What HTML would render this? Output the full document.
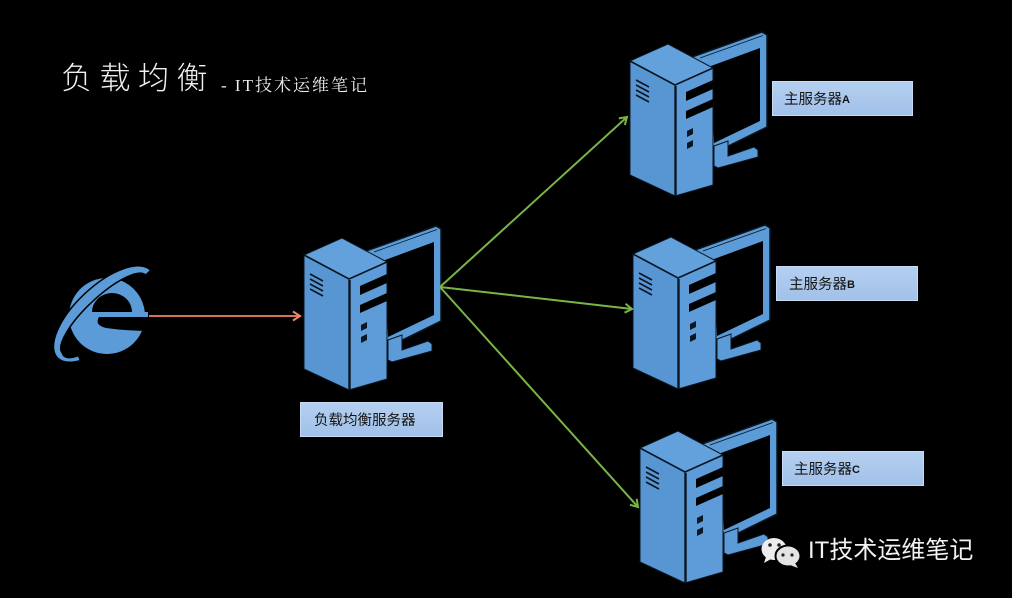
<!DOCTYPE html>
<html><head><meta charset="utf-8">
<style>
html,body{margin:0;padding:0;background:#000;}
#w{position:relative;width:1012px;height:598px;overflow:hidden;background:#000;}
svg{position:absolute;left:0;top:0;}
.t{position:absolute;white-space:nowrap;}
.lb{position:absolute;height:35px;box-sizing:border-box;border:1px solid #c6dbf4;background:linear-gradient(#b4cff0,#a2c1e9);display:flex;align-items:center;font-family:"Liberation Sans","Noto Sans CJK SC",sans-serif;font-size:14px;color:#151515;}
.lb b{font-family:"Liberation Sans",sans-serif;font-size:11px;font-weight:900;position:relative;top:1px;}
</style></head>
<body><div id="w">
<svg width="1012" height="598" viewBox="0 0 1012 598">
<defs>
<marker id="ag" markerUnits="userSpaceOnUse" markerWidth="14" markerHeight="14" refX="9" refY="6" orient="auto"><path d="M2,1.5 L9,6 L2,10.5" fill="none" stroke="#78b545" stroke-width="2"/></marker>
<marker id="ao" markerUnits="userSpaceOnUse" markerWidth="14" markerHeight="14" refX="9" refY="6" orient="auto"><path d="M2,1.5 L9,6 L2,10.5" fill="none" stroke="#ee8a62" stroke-width="2"/></marker>
<g id="pc">
 <polygon points="366,251 436,226 441,229 441,321 390,346 366,346" fill="#5b9bd8" stroke="#0a1622" stroke-width="1.5"/>
 <line x1="374" y1="252" x2="437" y2="229.5" stroke="#0a1622" stroke-width="0.8"/>
 <polygon points="385,260 434,242 434,315 388,337" fill="#000"/>
 <polygon points="388,340 402,335 402,350 428,341 432,344 432,351 392,362 388,360" fill="#5b9bd8" stroke="#0a1622" stroke-width="1"/>
 <polygon points="304,255 349,279 349,390 304,369" fill="#5896d3" stroke="#0a1622" stroke-width="1"/>
 <polygon points="304,255 342,238 387,262 349,279" fill="#63a1dc" stroke="#0a1622" stroke-width="1"/>
 <polygon points="349,279 387,262 387,379 349,390" fill="#5d9cd9" stroke="#0a1622" stroke-width="1"/>
 <polyline points="304,255 349,279 387,262" stroke="#0a1622" stroke-width="1.6" fill="none"/>
 <line x1="349.5" y1="280" x2="349.5" y2="390" stroke="#0a1622" stroke-width="2.4"/>
 <polygon points="360,286 387,274 387,283 360,295" fill="#000"/>
 <polygon points="360,305 387,293 387,301 360,313" fill="#000"/>
 <polygon points="361,325 367,322 367,328 361,331" fill="#0a1622"/>
 <polygon points="361,337 367,334 367,340 361,343" fill="#0a1622"/>
 <g stroke="#0a1622" stroke-width="1.6">
  <line x1="310" y1="274" x2="323" y2="281"/>
  <line x1="310" y1="279" x2="323" y2="286"/>
  <line x1="310" y1="284" x2="323" y2="291"/>
  <line x1="310" y1="289" x2="323" y2="296"/>
 </g>
</g>
</defs>

<!-- IE logo -->
<circle cx="107" cy="316" r="38" fill="#5b9bd8"/>
<path d="M92,312 A20,19 0 0 1 132,312 Z" fill="#000"/>
<path d="M99,317 L150,317 L150,331 Q128,331 106,328 Q94,325 99,317 Z" fill="#000"/>
<rect x="125" y="312" width="23" height="5" fill="#5b9bd8"/>
<g transform="translate(104 314) rotate(-43)">
 <path d="M64,0 A64,28 0 0 0 -64,0 A64,28 0 0 0 -49,18 L-47,13 A57,17 0 0 1 -57,0 A57,17 0 0 1 57,0 Z" fill="#5b9bd8" stroke="#000" stroke-width="1.5"/>
</g>

<!-- computers -->
<use href="#pc"/>
<use href="#pc" x="326" y="-194"/>
<use href="#pc" x="329" y="-1"/>
<use href="#pc" x="336" y="193"/>

<!-- arrows -->
<line x1="149" y1="316" x2="300" y2="316" stroke="#ee8a62" stroke-width="1.8" marker-end="url(#ao)"/>
<line x1="440" y1="287" x2="627" y2="117" stroke="#78b545" stroke-width="2" marker-end="url(#ag)"/>
<line x1="440" y1="287" x2="632" y2="309" stroke="#78b545" stroke-width="2" marker-end="url(#ag)"/>
<line x1="440" y1="287" x2="638" y2="507" stroke="#78b545" stroke-width="2" marker-end="url(#ag)"/>

<!-- wechat icon -->
<ellipse cx="774" cy="549" rx="12.5" ry="11" fill="#ededed"/>
<path d="M766,557 L764,563 L771,559 Z" fill="#ededed"/>
<circle cx="770" cy="545" r="1.8" fill="#222"/>
<circle cx="779" cy="545" r="1.8" fill="#222"/>
<ellipse cx="788" cy="556" rx="12.5" ry="10.5" fill="#e4e4e4" stroke="#000" stroke-width="2"/>
<path d="M795,563 L798,568 L790,565 Z" fill="#e4e4e4"/>
<circle cx="783" cy="555" r="1.6" fill="#222"/>
<circle cx="792" cy="555" r="1.6" fill="#222"/>
</svg>

<div class="t" style="left:61px;top:60px;font-family:'Noto Sans CJK SC',sans-serif;font-weight:300;font-size:31px;line-height:31px;letter-spacing:7.5px;color:#f0f0f0;">负载均衡</div>
<div class="t" style="left:221px;top:77px;font-family:'Liberation Serif','Noto Serif CJK SC',serif;font-size:17px;line-height:17px;letter-spacing:2px;color:#eeeeee;">- IT技术运维笔记</div>

<div class="lb" style="left:300px;top:402px;width:143px;padding-left:13px;font-size:14.5px;">负载均衡服务器</div>
<div class="lb" style="left:772px;top:81px;width:141px;padding-left:11px;font-size:14.5px;">主服务器<b>A</b></div>
<div class="lb" style="left:776px;top:266px;width:142px;padding-left:12px;font-size:14.5px;">主服务器<b>B</b></div>
<div class="lb" style="left:782px;top:451px;width:142px;padding-left:11px;font-size:14.5px;">主服务器<b>C</b></div>

<div class="t" style="left:808px;top:539px;font-family:'Liberation Sans','Noto Sans CJK SC',sans-serif;font-size:24px;line-height:24px;color:#f2f2f2;">IT技术运维笔记</div>
</div></body></html>
